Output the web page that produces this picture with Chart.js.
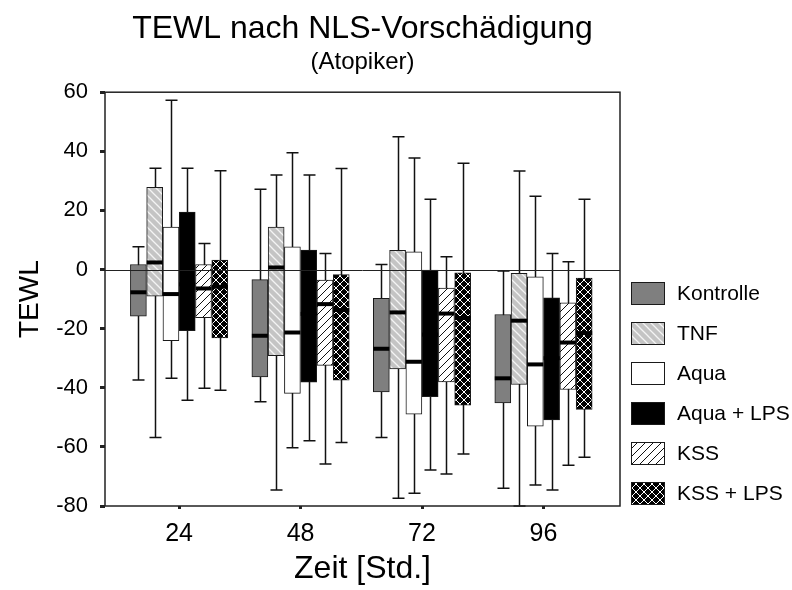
<!DOCTYPE html>
<html>
<head>
<meta charset="utf-8">
<script src="https://cdn.jsdelivr.net/npm/chart.js@4.4.0/dist/chart.umd.min.js"></script>
<style>
  html, body { margin: 0; padding: 0; background: #fff; }
  #wrap { width: 792px; height: 590px; }
</style>
</head>
<body>
<div id="wrap"><canvas id="chart" width="792" height="590"></canvas></div>
<script>
// time points and treatment groups
const categories = ['24', '48', '72', '96'];
const groups = ['Kontrolle', 'TNF', 'Aqua', 'Aqua + LPS', 'KSS', 'KSS + LPS'];
const yTicks = [-80, -60, -40, -20, 0, 20, 40, 60];

// box plot values, one row per group, one column per time point
const whiskerLow = [
    [-37.4, -44.7, -56.8, -74.0],
    [-56.8, -74.6, -77.4, -80.0],
    [-36.8, -60.3, -75.7, -72.9],
    [-44.2, -57.9, -67.8, -74.6],
    [-40.2, -65.8, -69.2, -66.2],
    [-40.8, -58.5, -62.4, -63.5]
];
const quartileLow = [
    [-15.8, -36.3, -41.4, -45.1],
    [-9.0, -29.1, -33.6, -38.9],
    [-24.1, -41.9, -48.9, -53.0],
    [-20.7, -38.1, -43.0, -50.9],
    [-16.3, -32.4, -38.0, -40.6],
    [-23.1, -37.4, -45.9, -47.3]
];
const medians = [
    [-7.7, -22.4, -26.8, -36.8],
    [2.4, 0.7, -14.5, -17.3],
    [-8.3, -21.3, -31.2, -32.1],
    [-5.0, -15.0, -22.0, -30.0],
    [-6.4, -11.7, -14.9, -24.7],
    [-5.8, -13.7, -16.4, -21.5]
];
const quartileHigh = [
    [1.7, -3.4, -9.7, -15.2],
    [27.8, 14.4, 6.5, -1.3],
    [14.4, 7.7, 6.0, -2.5],
    [19.4, 6.6, 0.0, -9.6],
    [1.7, -3.6, -6.3, -11.3],
    [3.2, -1.7, -1.1, -2.9]
];
const whiskerHigh = [
    [7.7, 27.2, 1.7, -0.5],
    [34.3, 32.0, 44.9, 33.3],
    [57.3, 39.5, 37.7, 24.8],
    [34.3, 32.0, 23.8, 5.4],
    [8.8, 5.4, 4.3, 2.6],
    [33.4, 34.2, 36.0, 23.8]
];

const FONT = "'Liberation Sans', Arial, sans-serif";
const BOX_W = 16;
const offsets = groups.map((g, i) => (i - 2.5) * 0.134);

function makePattern(bg, draw) {
    const c = document.createElement('canvas');
    c.width = 8; c.height = 8;
    const p = c.getContext('2d');
    p.fillStyle = bg;
    p.fillRect(0, 0, 8, 8);
    draw(p);
    return p.createPattern(c, 'repeat');
}

const fills = [
    '#7f7f7f',
    makePattern('#c4c4c4', p => {
        p.strokeStyle = '#f4f4f4'; p.lineWidth = 1.3;
        p.beginPath();
        p.moveTo(-1, -1); p.lineTo(9, 9);
        p.moveTo(-5, 3); p.lineTo(5, 13);
        p.moveTo(3, -5); p.lineTo(13, 5);
        p.stroke();
    }),
    '#ffffff',
    '#000000',
    makePattern('#ffffff', p => {
        p.strokeStyle = '#111'; p.lineWidth = 1;
        p.beginPath();
        p.moveTo(-1, 9); p.lineTo(9, -1);
        p.moveTo(-5, 5); p.lineTo(5, -5);
        p.moveTo(3, 13); p.lineTo(13, 3);
        p.stroke();
    }),
    makePattern('#000000', p => {
        p.fillStyle = '#ffffff';
        for (let k = 0; k < 8; k++) {
            p.fillRect(k, k, 1, 1);
            p.fillRect(7 - k, k, 1, 1);
        }
    })
];

const datasets = groups.map((g, i) => ({
    label: g,
    data: categories.map((c, j) => ({ x: j + 1 + offsets[i], y: [quartileLow[i][j], quartileHigh[i][j]] })),
    backgroundColor: fills[i],
    borderColor: '#1a1a1a',
    borderWidth: 1,
    borderSkipped: false,
    barThickness: BOX_W,
    grouped: false
}));

const boxPlotExtras = {
    id: 'boxPlotExtras',
    beforeDatasetsDraw(chart) {
        const { ctx, scales: { x, y } } = chart;
        ctx.save();
        ctx.strokeStyle = '#111';
        ctx.lineWidth = 1.5;
        groups.forEach((g, i) => {
            categories.forEach((c, j) => {
                const xc = Math.round(x.getPixelForValue(j + 1 + offsets[i])) + 0.5;
                const yLo = y.getPixelForValue(whiskerLow[i][j]);
                const yHi = y.getPixelForValue(whiskerHigh[i][j]);
                ctx.beginPath();
                ctx.moveTo(xc, yLo); ctx.lineTo(xc, yHi);
                ctx.moveTo(xc - 6, yLo); ctx.lineTo(xc + 6, yLo);
                ctx.moveTo(xc - 6, yHi); ctx.lineTo(xc + 6, yHi);
                ctx.stroke();
            });
        });
        ctx.restore();
    },
    afterDatasetsDraw(chart) {
        const { ctx, chartArea: a, scales: { x, y } } = chart;
        ctx.save();
        // medians
        ctx.strokeStyle = '#000';
        ctx.lineWidth = 4;
        groups.forEach((g, i) => {
            categories.forEach((c, j) => {
                const xc = x.getPixelForValue(j + 1 + offsets[i]);
                const ym = y.getPixelForValue(medians[i][j]);
                ctx.beginPath();
                ctx.moveTo(xc - BOX_W / 2, ym); ctx.lineTo(xc + BOX_W / 2, ym);
                ctx.stroke();
            });
        });
        // zero line
        const y0 = Math.round(y.getPixelForValue(0)) + 0.5;
        ctx.lineWidth = 1;
        ctx.strokeStyle = '#222';
        ctx.beginPath();
        ctx.moveTo(a.left, y0); ctx.lineTo(a.right, y0);
        ctx.stroke();
        // frame
        ctx.lineWidth = 1.5;
        ctx.strokeStyle = '#222';
        ctx.strokeRect(a.left, a.top, a.right - a.left, a.bottom - a.top);
        ctx.restore();
    },
    afterDraw(chart) {
        const { ctx } = chart;
        ctx.save();
        ctx.font = '21px ' + FONT;
        ctx.textBaseline = 'middle';
        groups.forEach((g, i) => {
            const top = 282 + i * 40;
            ctx.fillStyle = fills[i];
            ctx.fillRect(631, top, 33, 22);
            ctx.strokeStyle = '#1a1a1a';
            ctx.lineWidth = 1;
            ctx.strokeRect(631.5, top + 0.5, 33, 22);
            ctx.fillStyle = '#000';
            ctx.fillText(g, 677, top + 12);
        });
        ctx.restore();
    }
};

new Chart(document.getElementById('chart'), {
    type: 'bar',
    data: { datasets },
    options: {
        responsive: false,
        animation: false,
        layout: { padding: { top: 0, right: 172, left: 0, bottom: 0 } },
        plugins: {
            legend: { display: false },
            tooltip: { enabled: false },
            title: {
                display: true,
                text: 'TEWL nach NLS-Vorschädigung',
                fullSize: false,
                color: '#000',
                font: { family: FONT, size: 32, weight: 'normal', lineHeight: 1.2 },
                padding: { top: 10, bottom: 0 }
            },
            subtitle: {
                display: true,
                text: '(Atopiker)',
                fullSize: false,
                color: '#000',
                font: { family: FONT, size: 24, weight: 'normal', lineHeight: 1.2 },
                padding: { top: 0, bottom: 15 }
            }
        },
        scales: {
            x: {
                type: 'linear',
                min: 0.39,
                max: 4.63,
                offset: false,
                afterBuildTicks(scale) {
                    scale.ticks = categories.map((c, j) => ({ value: j + 1 }));
                },
                afterFit(scale) { scale.height = 84; },
                grid: { offset: false, drawOnChartArea: false, drawTicks: true, tickLength: 3, tickWidth: 3, color: '#222' },
                border: { display: false },
                ticks: {
                    color: '#000',
                    font: { family: FONT, size: 25 },
                    padding: 10,
                    callback: (v) => categories[v - 1]
                },
                title: {
                    display: true,
                    text: 'Zeit [Std.]',
                    color: '#000',
                    font: { family: FONT, size: 32, lineHeight: 1.06 }
                }
            },
            y: {
                min: -80,
                max: 60,
                afterBuildTicks(scale) {
                    scale.ticks = yTicks.map(v => ({ value: v }));
                },
                afterFit(scale) { scale.width = 105; },
                grid: { drawOnChartArea: false, drawTicks: true, tickLength: 5, tickWidth: 3, color: '#222' },
                border: { display: false },
                ticks: {
                    color: '#000',
                    font: { family: FONT, size: 22 },
                    padding: 12
                },
                title: {
                    display: true,
                    text: 'TEWL',
                    color: '#000',
                    font: { family: FONT, size: 28, lineHeight: 1.9 }
                }
            }
        }
    },
    plugins: [boxPlotExtras]
});
</script>
</body>
</html>
